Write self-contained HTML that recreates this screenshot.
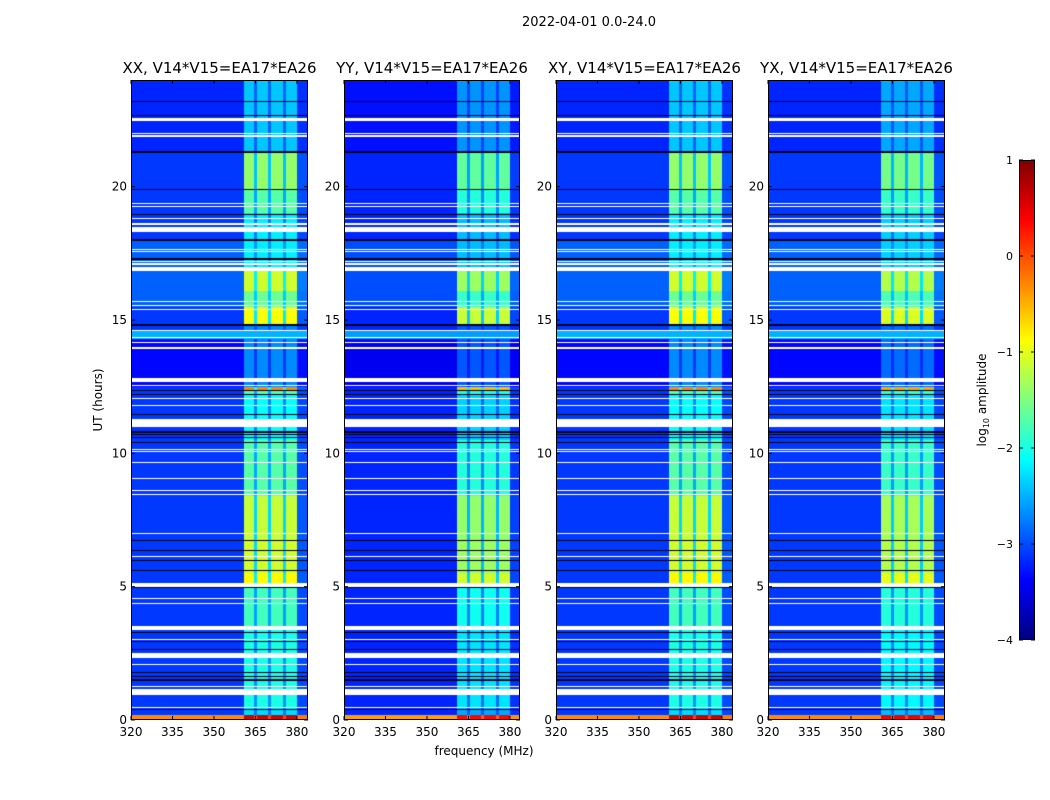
<!DOCTYPE html>
<html><head><meta charset="utf-8">
<style>
body{margin:0;background:#fff;}
#wrap{position:relative;width:1050px;height:800px;background:#fff;overflow:hidden;font-family:"DejaVu Sans","Liberation Sans",sans-serif;}
canvas{position:absolute;}
svg{position:absolute;left:0;top:0;}
</style></head>
<body>
<div id="wrap">
<canvas id="c0" width="177" height="640" style="left:131px;top:80px"></canvas>
<canvas id="c1" width="176" height="640" style="left:344px;top:80px"></canvas>
<canvas id="c2" width="177" height="640" style="left:556px;top:80px"></canvas>
<canvas id="c3" width="177" height="640" style="left:768px;top:80px"></canvas>
<canvas id="cb" width="16" height="480" style="left:1019px;top:160px"></canvas>
<svg id="sv" width="1050" height="800"></svg>
</div>
<script>
// ---- data ----
const panelTitles = ["XX, V14*V15=EA17*EA26","YY, V14*V15=EA17*EA26","XY, V14*V15=EA17*EA26","YX, V14*V15=EA17*EA26"];
const panelBandOffset = [0, -0.25, 0, -0.15];
const panelBgOffset = [0, -0.1, 0, 0];
const xTicks = [320,335,350,365,380];
const yTicks = [0,5,10,15,20];
const cbTicks = [1,0,-1,-2,-3,-4];
// background level segments [start h, end h, log amp]
const bgSegments = [[0,0.19,-0.3],[0.19,12.5,-3.1],[12.5,14.3,-3.35],[14.3,14.6,-2.5],[14.6,15.5,-3.1],[15.5,18.0,-2.9],[18.0,21.3,-3.1],[21.3,24,-3.2]];
// interference band level segments [start h, end h, log amp]
const bandSegments = [[0,0.19,0.6],[0.19,0.5,-2.3],[0.5,3.5,-2.0],[3.5,5.0,-1.8],[5.0,5.5,-0.85],[5.5,6.8,-1.1],[6.8,8.4,-1.15],[8.4,10.5,-1.7],[10.5,12.2,-2.1],[12.2,12.37,-1.7],[12.37,12.5,-0.3],[12.5,14.8,-2.7],[14.8,15.5,-0.9],[15.5,16.1,-1.6],[16.1,16.9,-1.1],[16.9,19.0,-2.2],[19.0,19.9,-1.7],[19.9,21.3,-1.4],[21.3,24,-2.4]];
// sub-band frequency ranges (MHz) [start, end]
const subBands = [[360.7,364.5],[365.7,369.7],[370.6,374.9],[375.9,380.1]];
// flagged (white) rows [start h, end h]
const flagRows = [[22.54,22.58],[22.48,22.52],[21.98,22.02],[21.88,21.92],[19.35,19.39],[19.25,19.29],[18.79,18.83],[18.58,18.62],[18.3,18.5],[17.63,17.67],[17.54,17.58],[17.18,17.22],[17.08,17.12],[16.85,17.0],[15.69,15.73],[15.53,15.57],[15.37,15.41],[14.59,14.63],[14.34,14.38],[14.14,14.18],[13.93,13.97],[12.66,12.81],[12.54,12.58],[12.04,12.08],[11.79,11.83],[11.0,11.27],[10.13,10.17],[10.04,10.08],[9.63,9.67],[9.04,9.08],[8.58,8.62],[8.42,8.46],[6.98,7.02],[6.1,6.14],[5.0,5.15],[4.52,4.56],[4.36,4.4],[3.37,3.54],[3.0,3.04],[2.34,2.5],[2.07,2.11],[1.23,1.27],[0.94,1.15],[0.46,0.5]];
// dark (zero) rows, hours
const darkRows = [23.18,22.67,21.3,19.9,18.96,18.0,17.29,14.82,14.78,12.35,12.21,11.46,10.8,10.7,10.6,10.41,6.72,6.35,5.97,5.6,4.96,3.29,2.94,2.65,1.77,1.62,1.5,0.38];

// ---- scales ----
const fMin=320, fMax=384, tMin=0, tMax=24;
function jet(v){
  let n=(v+4)/5; n=Math.max(0,Math.min(1,n));
  const r=Math.max(0,Math.min(1,1.5-Math.abs(4*n-3)));
  const g=Math.max(0,Math.min(1,1.5-Math.abs(4*n-2)));
  const b=Math.max(0,Math.min(1,1.5-Math.abs(4*n-1)));
  return [r*255,g*255,b*255];
}
function seg(arr,t){for(const s of arr){if(t>=s[0]&&t<s[1])return s[2];}return arr[arr.length-1][2];}
function bandFactor(f){
  for(const s of subBands){if(f>=s[0]&&f<=s[1])return 1;}
  if(f>=360.7&&f<=380.1) return 0.4;
  if(f>380.1&&f<383.5) return 0.08;
  return 0;
}
const panelX=[131,344,556,768];
const panelW=[177,176,177,177];
const top0=80, H=640;
function tToY(t){return top0+H*(1-(t-tMin)/(tMax-tMin));}
for(let p=0;p<4;p++){
  const cv=document.getElementById('c'+p), ctx=cv.getContext('2d');
  const W=panelW[p]; const img=ctx.createImageData(W,H);
  const xScale=177/(fMax-fMin);
  for(let y=0;y<H;y++){
    const t=tMax-(y+0.5)/H*(tMax-tMin);
    let flagged=false,dark=false;
    for(const r of flagRows){if(t>=r[0]&&t<=r[1]){flagged=true;break;}}
    if(!flagged)for(const d of darkRows){if(Math.abs(t-d)<0.022){dark=true;break;}}
    const bg=seg(bgSegments,t)+panelBgOffset[p];
    const bl=seg(bandSegments,t)+panelBandOffset[p];
    for(let x=0;x<W;x++){
      const i=(y*W+x)*4; let c;
      if(flagged)c=[255,255,255];
      else if(dark)c=[0,0,30];
      else{
        const f=fMin+(x+0.5)/xScale;
        const bf=bandFactor(f);
        let v=bg; if(bf>0&&bl>bg)v=bg+(bl-bg)*bf;
        c=jet(v);
      }
      img.data[i]=c[0];img.data[i+1]=c[1];img.data[i+2]=c[2];img.data[i+3]=255;
    }
  }
  ctx.putImageData(img,0,0);
}
(function(){const cv=document.getElementById('cb'),ctx=cv.getContext('2d');
for(let y=0;y<480;y++){const v=1-5*(y+0.5)/480;const c=jet(v);ctx.fillStyle=`rgb(${c[0]|0},${c[1]|0},${c[2]|0})`;ctx.fillRect(0,y,16,1);}})();

// ---- svg axes ----
const NS='http://www.w3.org/2000/svg', sv=document.getElementById('sv');
function el(tag,attrs,txt){const e=document.createElementNS(NS,tag);for(const k in attrs)e.setAttribute(k,attrs[k]);if(txt!==undefined)e.textContent=txt;sv.appendChild(e);return e;}
const sup=el('text',{x:589,y:26,'text-anchor':'middle','font-size':13,fill:'#000'},'2022-04-01 0.0-24.0');


for(let p=0;p<4;p++){
  const x0=panelX[p],W=panelW[p];
  const fx=f=>x0+(f-fMin)/(fMax-fMin)*177;
  const fr=el('rect',{x:x0+0.5,y:top0+0.5,width:W-1,height:H-1,fill:'none',stroke:'#000','stroke-width':1});
  
  
  const tt=el('text',{x:x0+W/2,y:73,'text-anchor':'middle','font-size':15,fill:'#000'},panelTitles[p]);
  
  
  for(const f of xTicks){
    const x=fx(f);
    el('line',{x1:x,x2:x,y1:top0+H,y2:top0+H-4,stroke:'#000'});
    el('line',{x1:x,x2:x,y1:top0,y2:top0+4,stroke:'#000'});
    const l=el('text',{x:x,y:top0+H+16,'text-anchor':'middle','font-size':12,fill:'#000'},String(f));
    
    
  }
  for(const t of yTicks){
    const y=tToY(t);
    el('line',{x1:x0,x2:x0+4,y1:y,y2:y,stroke:'#000'});
    el('line',{x1:x0+W,x2:x0+W-4,y1:y,y2:y,stroke:'#000'});
    const l=el('text',{x:x0-4,y:y+4,'text-anchor':'end','font-size':12,fill:'#000'},String(t));
    
    
  }
}
const yl=el('text',{x:0,y:0,transform:'translate(102,400) rotate(-90)','text-anchor':'middle','font-size':12,fill:'#000'},'UT (hours)');


const xl=el('text',{x:484,y:755,'text-anchor':'middle','font-size':12,fill:'#000'},'frequency (MHz)');


const cbf=el('rect',{x:1019.5,y:160.5,width:15,height:479,fill:'none',stroke:'#000'});


for(const v of cbTicks){
  const y=160+(1-v)/5*480;
  el('line',{x1:1019,x2:1023,y1:y,y2:y,stroke:'#000'});
  el('line',{x1:1035,x2:1031,y1:y,y2:y,stroke:'#000'});
  const l=el('text',{x:1013,y:y+4,'text-anchor':'end','font-size':11,fill:'#000'},v<0?'\u2212'+(-v):String(v));
  
  
}
const cl=el('text',{x:0,y:0,transform:'translate(986,400) rotate(-90)','text-anchor':'middle','font-size':12,fill:'#000'});


const t1=document.createElementNS(NS,'tspan');t1.textContent='log';cl.appendChild(t1);
const t2=document.createElementNS(NS,'tspan');t2.setAttribute('font-size','8');t2.setAttribute('dy','3');t2.textContent='10';cl.appendChild(t2);
const t3=document.createElementNS(NS,'tspan');t3.setAttribute('dy','-3');t3.textContent=' amplitude';cl.appendChild(t3);
</script>
</body></html>
